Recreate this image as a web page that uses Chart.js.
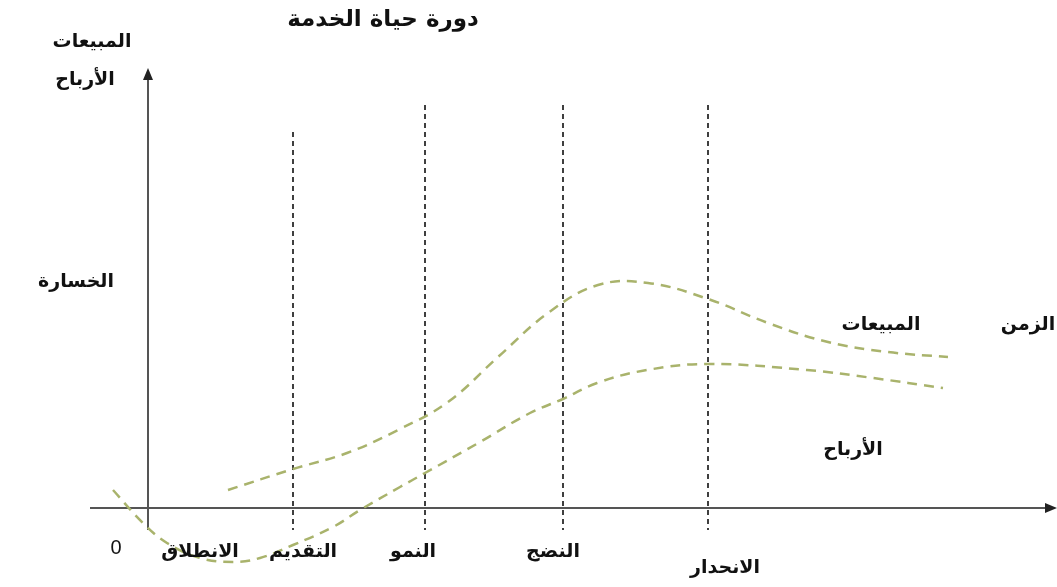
<!DOCTYPE html>
<html lang="ar">
<head>
<meta charset="utf-8">
<script src="https://cdn.jsdelivr.net/npm/chart.js@4.4.1/dist/chart.umd.min.js"></script>
<style>
  html, body { margin: 0; padding: 0; background: #fff; }
  #wrap { width: 1057px; height: 587px; position: relative; }
</style>
</head>
<body>
<div id="wrap"><canvas id="lifecycle"></canvas></div>
<script>
// ─── DATA ─────────────────────────────────────────────────
const salesTime   = [8, 14.5, 19.9, 25, 30, 35, 40, 45, 50, 56, 62, 68, 74, 80];
const salesValue  = [1.8, 3.9, 5.5, 7.8, 10.6, 15.1, 19.5, 22.3, 22.5, 20.9, 18.5, 16.6, 15.6, 15.1];
const profitTime  = [-3.5, -0.5, 1.9, 5.2, 8.5, 11.2, 14.5, 18.5, 21.2, 25.2, 27.7, 33.2, 38.2, 41.5, 44.9, 49.9, 56, 65.9, 72.5, 79.5];
const profitValue = [1.8, -1.5, -3.5, -5.0, -5.4, -5.0, -3.7, -1.9, -0.2, 2.1, 3.5, 6.6, 9.5, 10.9, 12.5, 13.8, 14.4, 13.8, 13.0, 12.0];

const stageNames  = ['الانطلاق', 'التقديم', 'النمو', 'النضج', 'الانحدار'];
const stageTime   = [5.2, 15.5, 26.5, 40.5, 57.7];
const stageLevel  = [-4.4, -4.4, -4.4, -4.4, -6.0];
const stageBounds = [14.5, 27.7, 41.5, 56];
const boundTops   = [37.6, 40.3, 40.3, 40.3];
const boundBottom = -2.2;

// free labels: text, time, level
const labelText  = ['المبيعات', 'الأرباح', 'الخسارة', 'الزمن', 'المبيعات', 'الأرباح'];
const labelTime  = [-5.6, -6.3, -7.2, 88, 73.3, 70.5];
const labelLevel = [46.6, 42.8, 22.6, 18.3, 18.3, 5.8];
const titleText  = 'دورة حياة الخدمة';

const GREEN = '#a9b36c';

// ─── AXES, ARROWS AND TEXT ────────────────────────────────
const axesPlugin = {
  id: 'axes',
  beforeDatasetsDraw(chart) {
    const { ctx, scales: { x, y } } = chart;
    const x0 = x.getPixelForValue(0), y0 = y.getPixelForValue(0);
    ctx.save();
    ctx.strokeStyle = '#555';
    ctx.fillStyle = '#222';
    ctx.lineWidth = 2;
    ctx.beginPath();
    ctx.moveTo(x.getPixelForValue(-5.8), y0);
    ctx.lineTo(x.right - 10, y0);
    ctx.moveTo(x0, y.getPixelForValue(-2.2));
    ctx.lineTo(x0, y.getPixelForValue(42.8));
    ctx.stroke();
    // arrow heads
    ctx.beginPath();
    ctx.moveTo(x.right, y0);
    ctx.lineTo(x.right - 12, y0 - 5);
    ctx.lineTo(x.right - 12, y0 + 5);
    ctx.closePath();
    ctx.fill();
    const top = y.getPixelForValue(44);
    ctx.beginPath();
    ctx.moveTo(x0, top);
    ctx.lineTo(x0 - 5, top + 12);
    ctx.lineTo(x0 + 5, top + 12);
    ctx.closePath();
    ctx.fill();
    ctx.restore();
  },
  afterDatasetsDraw(chart) {
    const { ctx, scales: { x, y } } = chart;
    ctx.save();
    ctx.fillStyle = '#111';
    ctx.textAlign = 'center';
    ctx.textBaseline = 'middle';
    ctx.direction = 'rtl';
    ctx.font = 'bold 23px "DejaVu Sans"';
    ctx.fillText(titleText, x.getPixelForValue(23.5), y.getPixelForValue(48.8));
    ctx.font = 'bold 19px "DejaVu Sans"';
    labelText.forEach((t, i) => {
      ctx.fillText(t, x.getPixelForValue(labelTime[i]), y.getPixelForValue(labelLevel[i]));
    });
    stageNames.forEach((t, i) => {
      ctx.fillText(t, x.getPixelForValue(stageTime[i]), y.getPixelForValue(stageLevel[i]));
    });
    ctx.direction = 'ltr';
    ctx.font = '20px "Liberation Sans"';
    ctx.fillText('0', x.getPixelForValue(-3.2), y.getPixelForValue(-4.0));
    ctx.restore();
  }
};

// ─── CHART ────────────────────────────────────────────────
const boundSets = stageBounds.map((b, i) => ({
  data: [{ x: b, y: boundTops[i] }, { x: b, y: boundBottom }],
  borderColor: '#000',
  borderWidth: 1.5,
  borderDash: [5, 4],
  pointRadius: 0,
}));

const ctx = document.getElementById('lifecycle').getContext('2d');
new Chart(ctx, {
  type: 'line',
  data: {
    datasets: [
      {
        label: 'المبيعات',
        data: salesTime.map((t, i) => ({ x: t, y: salesValue[i] })),
        borderColor: GREEN,
        borderWidth: 2.5,
        borderDash: [10, 7],
        pointRadius: 0,
        tension: 0.4,
      },
      {
        label: 'الأرباح',
        data: profitTime.map((t, i) => ({ x: t, y: profitValue[i] })),
        borderColor: GREEN,
        borderWidth: 2.5,
        borderDash: [10, 7],
        pointRadius: 0,
        tension: 0.4,
      },
      ...boundSets
    ]
  },
  options: {
    responsive: true,
    maintainAspectRatio: false,
    animation: false,
    layout: { padding: 0 },
    plugins: { legend: { display: false }, tooltip: { enabled: false } },
    scales: {
      x: { type: 'linear', min: -14.8, max: 90.9, display: false },
      y: { min: -7.9, max: 50.8, display: false }
    }
  },
  plugins: [axesPlugin]
});
</script>
</body>
</html>
